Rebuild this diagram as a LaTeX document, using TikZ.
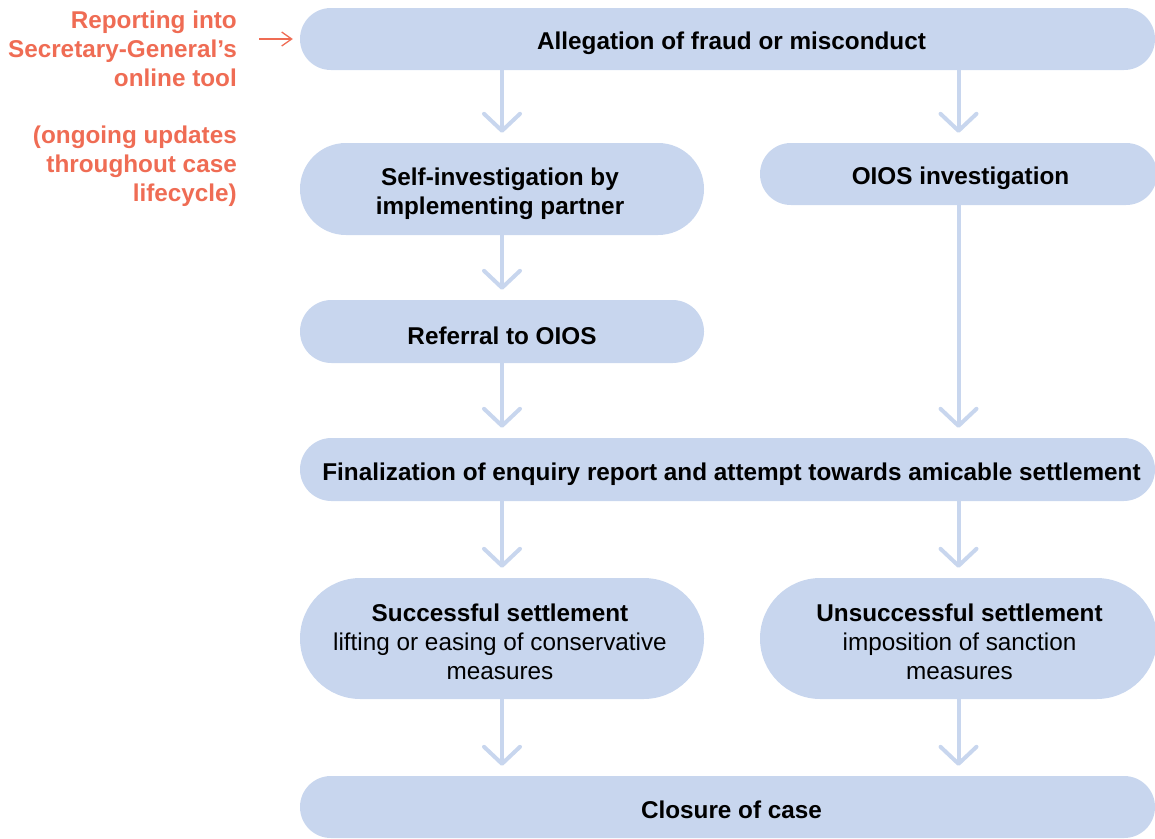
\documentclass[tikz,border=0pt]{standalone}
\usepackage{fontspec}
\setmainfont{Liberation Sans}
\usetikzlibrary{arrows.meta}
\definecolor{boxblue}{RGB}{200,214,238}
\definecolor{accent}{RGB}{239,108,84}
\begin{document}
\begin{tikzpicture}[x=1pt,y=-1pt,
  box/.style={fill=boxblue, inner sep=0pt},
  btxt/.style={align=center, inner sep=0pt, font=\fontsize{24.3}{29}\selectfont\bfseries},
  ptxt/.style={align=center, inner sep=0pt, font=\fontsize{24.3}{29}\selectfont},
  flow/.style={boxblue, line width=4pt, line cap=round, line join=round,
    -{Straight Barb[length=17pt,width=36pt,round]}, shorten >=10pt},
  note/.style={anchor=east, align=right, text=accent, inner sep=0pt, font=\fontsize{24.3}{29}\selectfont\bfseries}]
\useasboundingbox (0,0) rectangle (1155,838);

% boxes
\node[box, minimum width=855pt, minimum height=62pt, rounded corners=30.9pt] (top) at (727.5,39) {};
\node[box, minimum width=404pt, minimum height=92pt, rounded corners=45.9pt] (self) at (502,189) {};
\node[box, minimum width=397pt, minimum height=62pt, rounded corners=30.9pt] (oios) at (958.5,174) {};
\node[box, minimum width=404pt, minimum height=63pt, rounded corners=31.4pt] (ref) at (502,331.5) {};
\node[box, minimum width=855pt, minimum height=63pt, rounded corners=31.4pt] (final) at (727.5,469.5) {};
\node[box, minimum width=404pt, minimum height=121pt, rounded corners=60.4pt] (succ) at (502,638.5) {};
\node[box, minimum width=397pt, minimum height=121pt, rounded corners=60.4pt] (unsucc) at (958.5,638.5) {};
\node[box, minimum width=855pt, minimum height=62pt, rounded corners=30.9pt] (close) at (727.5,807) {};

% texts
\node[btxt] (topt) at ([xshift=4pt,yshift=-4pt]top.center) {Allegation of fraud or misconduct};
\node[btxt] (selft) at ([xshift=-2pt,yshift=-4.5pt]self.center) {Self-investigation by\\implementing partner};
\node[btxt] (oiost) at ([xshift=2pt,yshift=-4.5pt]oios.center) {OIOS investigation};
\node[btxt] (reft) at ([yshift=-4pt]ref.center) {Referral to OIOS};
\node[btxt] (finalt) at ([xshift=4pt,yshift=-4.5pt]final.center) {Finalization of enquiry report and attempt towards amicable settlement};
\node[ptxt] (succt) at ([xshift=-2pt,yshift=-3pt]succ.center) {\textbf{Successful settlement}\\lifting or easing of conservative\\measures};
\node[ptxt] (unsucct) at ([xshift=1pt,yshift=-3pt]unsucc.center) {\textbf{Unsuccessful settlement}\\imposition of sanction\\measures};
\node[btxt] (closet) at ([xshift=4pt,yshift=-3pt]close.center) {Closure of case};

% connectors
\draw[flow] (top.south -| self.north) -- (self.north);
\draw[flow] (top.south -| oios.north) -- (oios.north);
\draw[flow] (self.south) -- (ref.north);
\draw[flow] (ref.south) -- (final.north -| ref.south);
\draw[flow] (oios.south) -- (final.north -| oios.south);
\draw[flow] (final.south -| succ.north) -- (succ.north);
\draw[flow] (final.south -| unsucc.north) -- (unsucc.north);
\draw[flow] (succ.south) -- (close.north -| succ.south);
\draw[flow] (unsucc.south) -- (close.north -| unsucc.south);

% side notes
\node[note] (rep) at (237,49) {Reporting into\\Secretary-General’s\\online tool};
\node[note] (upd) at (237,166) {(ongoing updates\\throughout case\\lifecycle)};
\draw[accent, line width=1.3pt, -{Straight Barb[length=10pt,width=14pt]}, shorten <=22pt, shorten >=7pt] (rep.east |- top.west) -- (top.west);
\end{tikzpicture}
\end{document}
